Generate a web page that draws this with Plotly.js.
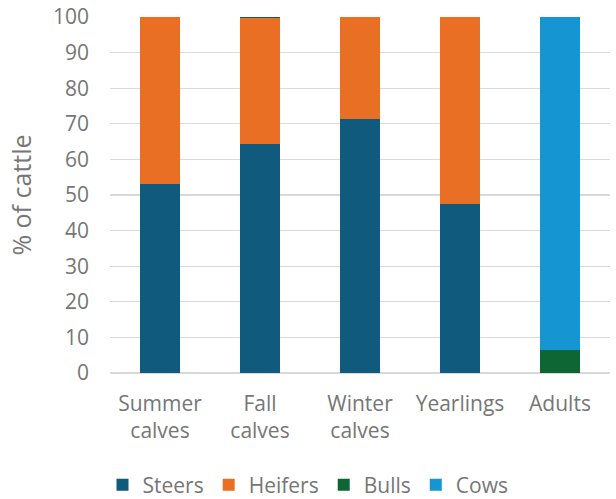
<!DOCTYPE html>
<html><head><meta charset="utf-8">
<script src="https://cdn.plot.ly/plotly-3.0.1.min.js"></script>
<style>html,body{margin:0;padding:0;background:#fff}</style>
</head><body><div id="chart" style="width:616px;height:499px"></div>
<script>
const categories = ["Summer<br>calves", "Fall<br>calves", "Winter<br>calves", "Yearlings", "Adults"];
const steers  = [53.2, 64.2, 71.4, 47.6, 0];
const heifers = [46.8, 35.4, 28.6, 52.4, 0];
const bulls   = [0, 0.4, 0, 0, 6.5];
const cows    = [0, 0, 0, 0, 93.5];
const yTicks = [0,10,20,30,40,50,60,70,80,90,100];

const font = {family: "Open Sans, Inter, Liberation Sans, sans-serif", color: "#767676", size: 21};
function tr(name, y, color){
  return {type:"bar", name:name, x:categories, y:y, marker:{color:color, line:{width:0}}, hoverinfo:"y"};
}
const data = [
  tr("Steers", steers, "#0f5a7d"),
  tr("Heifers", heifers, "#e96f24"),
  tr("Bulls", bulls, "#0e6634"),
  tr("Cows", cows, "#1595d2")
];
const layout = {
  width:616, height:499,
  margin:{l:110, r:6, t:17, b:126},
  barmode:"stack", bargap:0.6,
  paper_bgcolor:"#fff", plot_bgcolor:"#fff",
  font:font,
  showlegend:true,
  legend:{orientation:"h", x:0.5, xanchor:"center", xref:"container", y:0.028, yanchor:"middle", yref:"container", font:{size:21, color:"#767676"}, traceorder:"normal", itemwidth:30},
  xaxis:{tickfont:{size:21}, showgrid:false, zeroline:false, showline:false, ticks:"", ticklabelstandoff:16, automargin:false},
  yaxis:{range:[0,100], tickvals:yTicks, tickfont:{size:21}, showgrid:true, gridcolor:"#d9d9d9", gridwidth:1.3, zeroline:true, zerolinecolor:"#d9d9d9", zerolinewidth:1.3, ticks:"", ticklabelstandoff:20, automargin:false,
    title:{text:"% of cattle", font:{size:25, color:"#767676"}, standoff:14}}
};
Plotly.newPlot("chart", data, layout, {displayModeBar:false, staticPlot:true});
</script></body></html>
